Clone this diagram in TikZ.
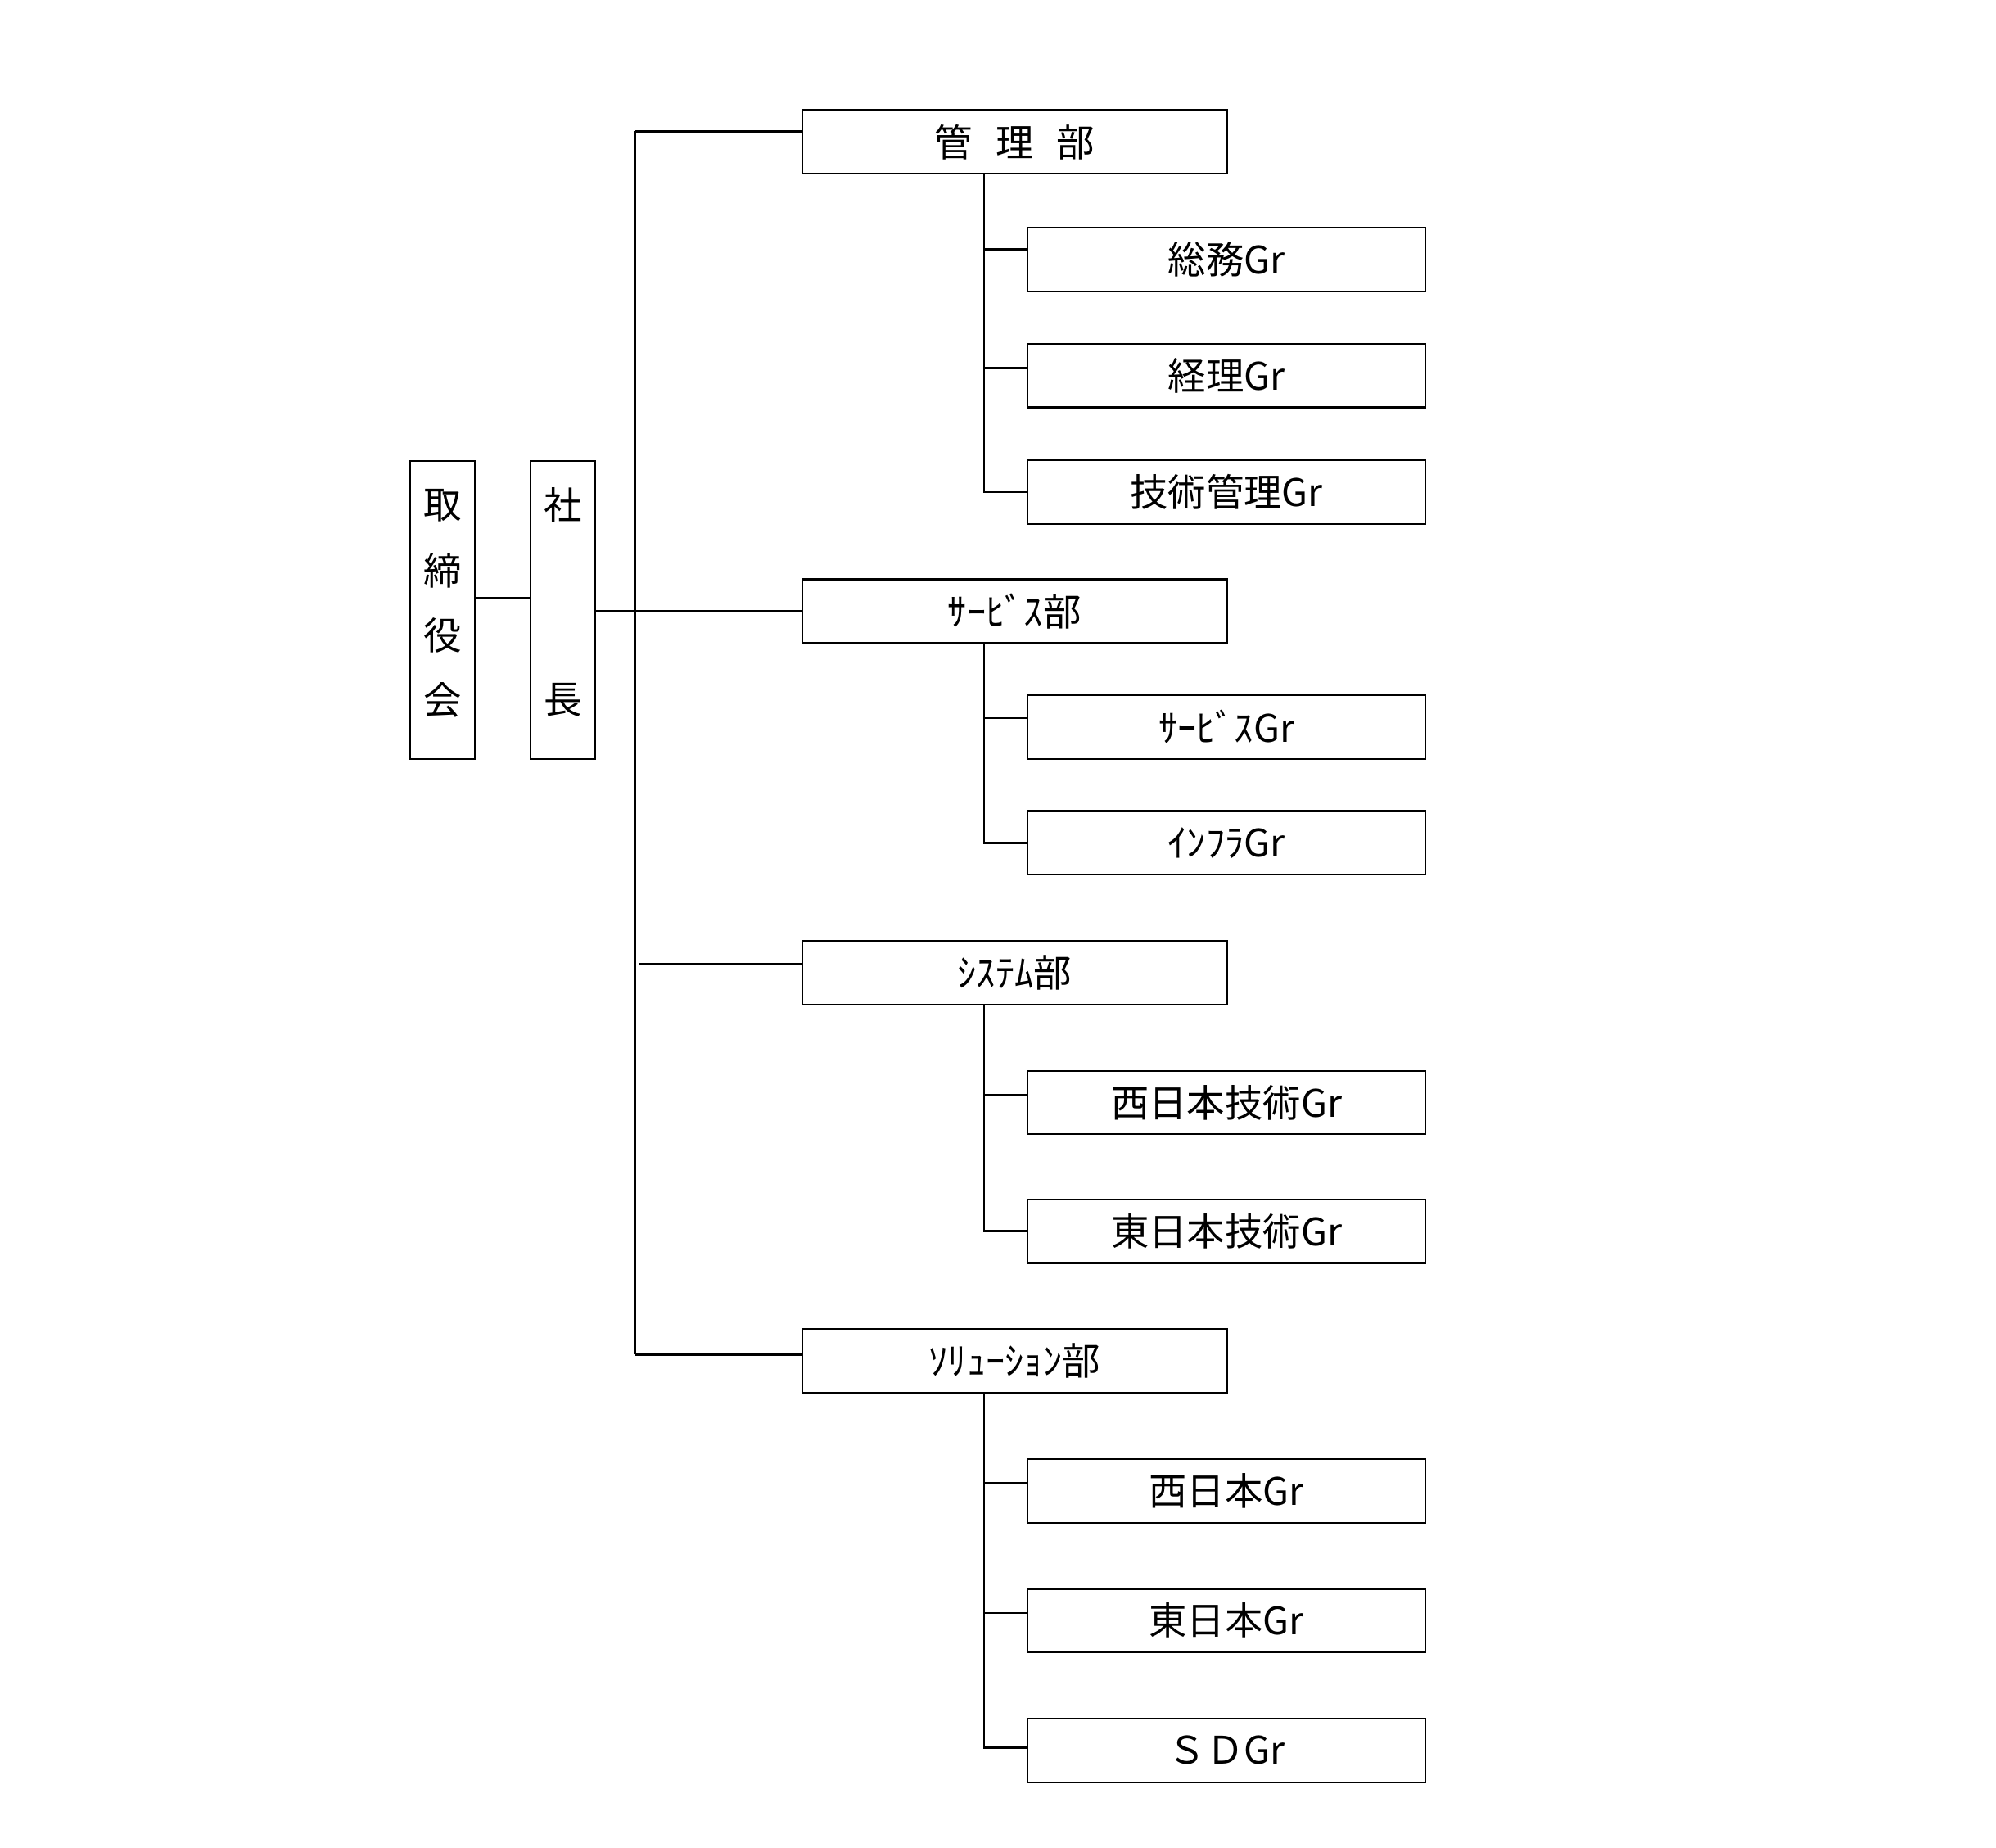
\documentclass[tikz,border=0pt]{standalone}
\usepackage{fontspec}
\newfontfamily\jp{Noto Sans CJK JP}
\begin{document}
\begin{tikzpicture}[x=0.02cm,y=-0.02cm,
 every node/.style={font=\jp\fontsize{17}{21}\selectfont},
 dept/.style={draw,line width=0.8pt,minimum width=6.68cm,minimum height=1.0cm,inner sep=0pt},
 grp/.style={draw,line width=0.8pt,minimum width=6.26cm,minimum height=1.0cm,inner sep=0pt},
 vbox/.style={draw,line width=0.8pt,minimum width=1.02cm,minimum height=4.68cm,inner sep=0pt},
 ln/.style={line width=1pt}]
\useasboundingbox (0,0) rectangle (1568,1451);
\node[vbox] (tori) at (347.5,479) {};
\node at (347.5,397) {取};
\node at (347.5,448) {締};
\node at (347.5,499) {役};
\node at (347.5,550) {会};
\node[vbox] (sha) at (442,479) {};
\node at (442,397) {社};
\node at (442,550) {長};
\draw[ln] (373,470) -- (416,470);
\node[dept] (kanri) at (797,111.5) {管\hspace{0.6em}理\hspace{0.6em}部};
\node[dept] (serv) at (797,480) {ｻｰﾋﾞｽ部};
\node[dept] (sys) at (797,764) {ｼｽﾃﾑ部};
\node[dept] (sol) at (797,1069) {ｿﾘｭｰｼｮﾝ部};
\node[grp] (g1) at (963.5,204) {総務Gr};
\node[grp] (g2) at (963.5,295) {経理Gr};
\node[grp] (g3) at (963.5,386.5) {技術管理Gr};
\node[grp] (g4) at (963.5,571) {ｻｰﾋﾞｽGr};
\node[grp] (g5) at (963.5,662) {ｲﾝﾌﾗGr};
\node[grp] (g6) at (963.5,866) {西日本技術Gr};
\node[grp] (g7) at (963.5,967) {東日本技術Gr};
\node[grp] (g8) at (963.5,1171) {西日本Gr};
\node[grp] (g9) at (963.5,1273) {東日本Gr};
\node[grp] (g10) at (963.5,1375) {ＳＤGr};
\coordinate (t1) at (499,103);
\coordinate (t2) at (499,1064);
\draw[ln] (t1) -- (t2);
\draw[ln] (t1) -- (kanri.west |- t1);
\draw[ln] (sha.east |- serv.west) -- (serv.west);
\draw[ln] (502,757) -- (sys.west |- 0,757);
\draw[ln] (t2) -- (sol.west |- t2);
\draw[ln] (773,137) |- (g3.west);
\draw[ln] (773,196) -- (g1.west |- 0,196);
\draw[ln] (773,289) -- (g2.west |- 0,289);
\draw[ln] (773,505) |- (g5.west);
\draw[ln] (773,564) -- (g4.west |- 0,564);
\draw[ln] (773,789) |- (g7.west);
\draw[ln] (773,860) -- (g6.west |- 0,860);
\draw[ln] (773,1094) |- (g10.west |- 0,1373);
\draw[ln] (773,1165) -- (g8.west |- 0,1165);
\draw[ln] (773,1267) -- (g9.west |- 0,1267);
\end{tikzpicture}
\end{document}
